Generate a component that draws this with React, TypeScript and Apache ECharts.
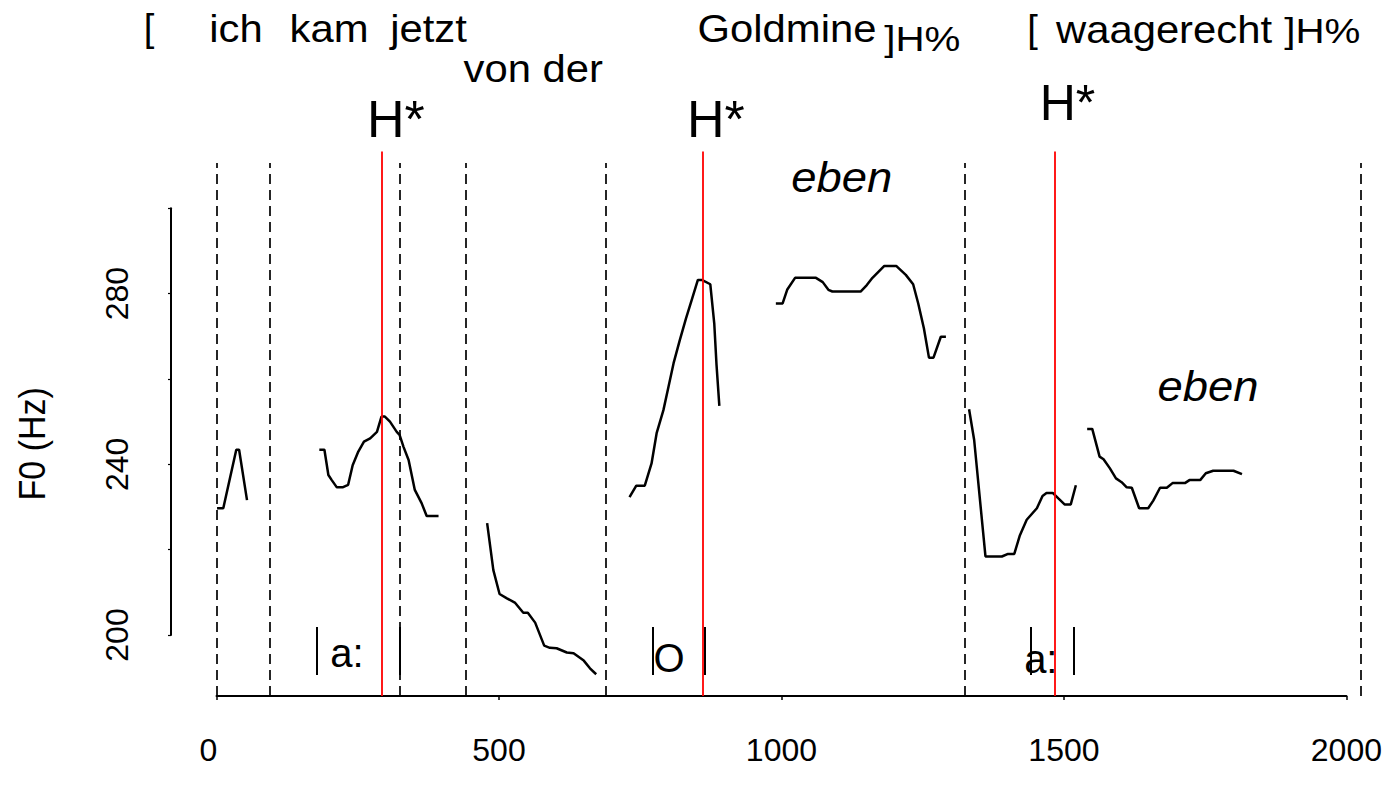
import React, { useEffect, useRef } from "react";
import * as echarts from "echarts";

// ---- data (time in ms, F0 in Hz) ----
const xTicks = [0, 500, 1000, 1500, 2000];
const yTickLabels = [200, 240, 280];

const boundaryTimes = [0, 95, 325, 442, 689, 1325, 2026];
const accentTimes = [293, 860, 1483];
const vowelBarTimes = [177, 325, 772, 865, 1442, 1518];

const contour1 = [[1, 229.7], [12, 229.7], [35, 243.4], [40, 243.4], [54, 231.6]];
const contour2 = [[182, 243.4], [191, 243.4], [198, 237.5], [204, 236.3], [213, 234.6], [223, 234.6], [233, 235.2], [241, 239.8], [251, 243.0], [261, 245.3], [272, 246.1], [284, 247.6], [292, 251.2], [298, 251.2], [307, 250.0], [319, 247.6], [324, 246.9], [331, 244.1], [340, 241.0], [351, 234.0], [363, 230.9], [372, 227.9], [393, 227.9]];
const contour3 = [[479, 226.2], [490, 215.2], [501, 209.6], [514, 208.6], [528, 207.6], [543, 205.2], [551, 205.2], [564, 202.9], [580, 197.5], [590, 197.0], [602, 196.9], [620, 195.9], [632, 195.7], [650, 194.0], [661, 192.2], [672, 190.8]];
const contour4 = [[731, 232.3], [743, 235.0], [758, 235.0], [770, 240.2], [779, 247.3], [791, 252.7], [800, 258.2], [809, 263.7], [820, 269.1], [831, 274.2], [841, 278.5], [852, 283.2], [859, 283.2], [874, 282.2], [881, 273.0], [885, 263.3], [890, 253.7]];
const contour5 = [[990, 277.7], [1002, 277.7], [1010, 280.9], [1024, 283.7], [1061, 283.7], [1073, 282.7], [1083, 280.9], [1090, 280.5], [1140, 280.5], [1151, 282.0], [1161, 283.7], [1182, 286.5], [1203, 286.5], [1220, 284.4], [1233, 282.2], [1242, 277.7], [1252, 271.9], [1261, 265.0], [1269, 265.0], [1282, 269.9], [1291, 269.9]];
const contour6 = [[1332, 252.9], [1341, 245.7], [1361, 218.4], [1390, 218.4], [1401, 219.0], [1412, 219.0], [1422, 223.4], [1434, 227.0], [1452, 229.7], [1462, 232.6], [1469, 233.3], [1480, 233.3], [1490, 232.0], [1501, 230.6], [1512, 230.6], [1521, 235.1]];
const contour7 = [[1541, 248.3], [1550, 248.3], [1563, 241.8], [1570, 241.2], [1581, 239.1], [1592, 236.7], [1602, 235.8], [1611, 234.6], [1620, 234.5], [1633, 229.7], [1649, 229.7], [1658, 231.5], [1670, 234.5], [1682, 234.5], [1692, 235.6], [1714, 235.6], [1722, 236.3], [1741, 236.3], [1751, 237.9], [1764, 238.5], [1800, 238.5], [1815, 237.7]];
const contours = [contour1, contour2, contour3, contour4, contour5, contour6, contour7];

// ---- layout ----
const FONT = '"Liberation Sans", Arial, Helvetica, sans-serif';
const X0 = 216.5; // px of 0 ms
const PXMS = 0.565;
const Y200 = 635; // px of 200 Hz
const PXHZ = 4.267;

const boundaryLow = 185.7, boundaryHigh = 310.6, accentHigh = 313.3;
const barLow = 190.6, barHigh = 201.9;

type Ann = { t: string; cx: number; base: number; size: number; italic?: boolean; sx?: number };
const annotations: Ann[] = [
  { t: "[", cx: 149, base: 41.7, size: 38 },
  { t: "ich", cx: 236, base: 41.7, size: 38, sx: 1.1 },
  { t: "kam", cx: 329, base: 41.7, size: 38, sx: 1.1 },
  { t: "jetzt", cx: 428.5, base: 41.7, size: 38, sx: 1.1 },
  { t: "von der", cx: 533.3, base: 81.7, size: 38, sx: 1.1 },
  { t: "Goldmine", cx: 787, base: 41.7, size: 38, sx: 1.1 },
  { t: "]H%", cx: 922.3, base: 50.5, size: 36, sx: 1.12 },
  { t: "[", cx: 1032.5, base: 42.5, size: 38 },
  { t: "waagerecht", cx: 1164, base: 43.3, size: 38, sx: 1.1 },
  { t: "]H%", cx: 1322.3, base: 43.3, size: 36, sx: 1.12 },
  { t: "H*", cx: 395.8, base: 136.7, size: 52 },
  { t: "H*", cx: 715.8, base: 136.7, size: 52 },
  { t: "H*", cx: 1067.5, base: 120, size: 50 },
  { t: "eben", cx: 841.7, base: 191.7, size: 42, italic: true, sx: 1.08 },
  { t: "eben", cx: 1208, base: 401, size: 42, italic: true, sx: 1.08 },
  { t: "a:", cx: 347, base: 666.7, size: 40 },
  { t: "O", cx: 669, base: 672, size: 40 },
  { t: "a:", cx: 1040.8, base: 673, size: 40 },
];

export default function App() {
  const ref = useRef<HTMLDivElement>(null);
  useEffect(() => {
    if (!ref.current) return;
    const chart = echarts.init(ref.current, null, { renderer: "svg" });

    const xMinA = -50, xMaxA = 2050, yMinA = 180, yMaxA = 315;
    const gridA = {
      left: X0 + xMinA * PXMS,
      width: (xMaxA - xMinA) * PXMS,
      top: Y200 - (yMaxA - 200) * PXHZ,
      height: (yMaxA - yMinA) * PXHZ,
    };

    const markData: any[] = [];
    boundaryTimes.forEach((t) =>
      markData.push([
        { coord: [t, boundaryLow], lineStyle: { color: "#000", width: 1.7, type: [10, 6] } },
        { coord: [t, boundaryHigh] },
      ])
    );
    vowelBarTimes.forEach((t) =>
      markData.push([
        { coord: [t, barLow], lineStyle: { color: "#000", width: 2, type: "solid" } },
        { coord: [t, barHigh] },
      ])
    );
    accentTimes.forEach((t) =>
      markData.push([
        { coord: [t, boundaryLow], lineStyle: { color: "#ff0000", width: 1.8, type: "solid" } },
        { coord: [t, accentHigh] },
      ])
    );

    const series: any[] = contours.map((c, i) => ({
      name: "F0 " + (i + 1),
      type: "line",
      xAxisIndex: 0,
      yAxisIndex: 0,
      data: c,
      showSymbol: false,
      symbol: "none",
      lineStyle: { color: "#000", width: 2.5 },
      z: 3,
    }));
    series.push({
      name: "boundaries",
      type: "line",
      xAxisIndex: 0,
      yAxisIndex: 0,
      data: [],
      z: 2,
      markLine: { silent: true, symbol: ["none", "none"], label: { show: false }, data: markData, animation: false },
    });

    const graphic: any[] = annotations.map((a) => ({
      type: "text",
      x: a.cx,
      y: a.base - 0.35 * a.size,
      scaleX: a.sx || 1,
      style: {
        text: a.t,
        fontSize: a.size,
        fontFamily: FONT,
        fontStyle: a.italic ? "italic" : "normal",
        fill: "#000",
        textAlign: "center",
        textVerticalAlign: "middle",
        align: "center",
        verticalAlign: "middle",
      },
    }));
    graphic.push({
      type: "text",
      x: 32.8,
      y: 443.8,
      rotation: Math.PI / 2,
      scaleY: 1.1,
      style: {
        text: "F0 (Hz)",
        fontSize: 34,
        fontFamily: FONT,
        fill: "#000",
        textAlign: "center",
        textVerticalAlign: "middle",
        align: "center",
        verticalAlign: "middle",
      },
    });

    chart.setOption({
      animation: false,
      backgroundColor: "#fff",
      grid: [
        { ...gridA, containLabel: false },
        { left: X0, width: 2000 * PXMS, top: 600, height: 96 },
        { left: 171, width: 100, top: Y200 - 100 * PXHZ, height: 100 * PXHZ },
      ],
      xAxis: [
        { type: "value", gridIndex: 0, min: xMinA, max: xMaxA, show: false },
        {
          type: "value",
          gridIndex: 1,
          min: xTicks[0],
          max: xTicks[xTicks.length - 1],
          interval: 500,
          axisLine: { show: true, onZero: false, lineStyle: { color: "#000", width: 2 } },
          axisTick: { show: true, length: 4, lineStyle: { color: "#000", width: 1.5 } },
          axisLabel: {
            fontSize: 32,
            color: "#000",
            fontFamily: FONT,
            margin: 38,
            showMinLabel: true,
            showMaxLabel: true,
            formatter: (v: number) => (v === 0 ? "{z|0}" : String(v)),
            rich: { z: { fontSize: 32, fontFamily: FONT, color: "#000", padding: [0, 16, 0, 0] } },
          },
          splitLine: { show: false },
        },
        { type: "value", gridIndex: 2, min: 0, max: 1, show: false },
      ],
      yAxis: [
        { type: "value", gridIndex: 0, min: yMinA, max: yMaxA, show: false },
        { type: "value", gridIndex: 1, min: 0, max: 1, show: false },
        {
          type: "value",
          gridIndex: 2,
          min: 200,
          max: 300,
          interval: 20,
          axisLine: { show: true, onZero: false, lineStyle: { color: "#000", width: 2 } },
          axisTick: { show: true, length: 3, lineStyle: { color: "#000", width: 1.2 } },
          axisLabel: {
            rotate: 90,
            fontSize: 32,
            color: "#000",
            fontFamily: FONT,
            margin: 38,
            formatter: (v: number) => (yTickLabels.includes(v) ? String(v) : ""),
          },
          splitLine: { show: false },
        },
      ],
      series,
      graphic,
    });
    return () => chart.dispose();
  }, []);
  return (
    <div
      ref={ref}
      style={{ position: "fixed", left: 0, top: 0, width: 1385, height: 786, background: "#fff" }}
    />
  );
}
